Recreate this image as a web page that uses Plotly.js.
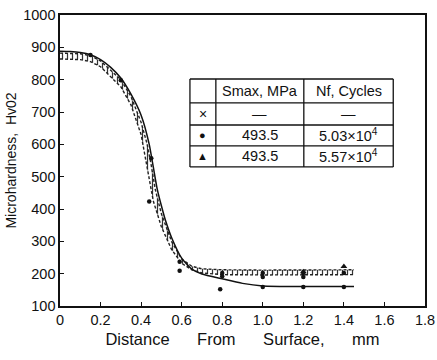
<!DOCTYPE html>
<html>
<head>
<meta charset="utf-8">
<script src="https://cdn.plot.ly/plotly-3.0.1.min.js"></script>
<style>html,body{margin:0;padding:0;background:#fff;}#chart{width:437px;height:360px;}</style>
</head>
<body>
<div id="chart"></div>
<script>
// Solid reference curve
const solidX = [0, 0.05, 0.1, 0.15, 0.2, 0.25, 0.3, 0.35, 0.4, 0.44, 0.46, 0.48, 0.5, 0.52, 0.55, 0.6, 0.65, 0.7, 0.8, 0.9, 1.0, 1.2, 1.45];
const solidY = [888, 887, 884, 877, 862, 838, 805, 755, 690, 600, 530, 460, 410, 365, 312, 248, 214, 199, 184, 170, 162, 160, 160];
// Scatter band (upper and lower edges)
const bandHiX = [0, 0.1, 0.15, 0.2, 0.3, 0.35, 0.4, 0.43, 0.45, 0.47, 0.5, 0.55, 0.6, 0.65, 0.7, 0.8, 1.0, 1.2, 1.45];
const bandHiY = [882, 880, 874, 858, 800, 748, 668, 600, 535, 460, 385, 300, 245, 223, 215, 212, 211, 212, 212];
const bandLoX = [0, 0.1, 0.15, 0.2, 0.3, 0.35, 0.4, 0.42, 0.44, 0.46, 0.5, 0.55, 0.6, 0.65, 0.7, 0.8, 1.0, 1.2, 1.45];
const bandLoY = [864, 862, 856, 840, 778, 722, 630, 560, 485, 425, 345, 275, 232, 212, 202, 197, 196, 197, 197];
// Measured points
const circleX = [0.15, 0.30, 0.45, 0.44, 0.59, 0.59, 0.79, 0.80, 0.80, 1.0, 1.0, 1.0, 1.2, 1.2, 1.2, 1.4, 1.4];
const circleY = [876, 798, 557, 423, 237, 209, 152, 202, 192, 202, 190, 159, 202, 190, 159, 202, 159];
const triX = [1.2, 1.4];
const triY = [206, 222];
// Axis ticks
const xTickVals = [0, 0.2, 0.4, 0.6, 0.8, 1.0, 1.2, 1.4, 1.6, 1.8];
const xTickText = ['0', '0.2', '0.4', '0.6', '0.8', '1.0', '1.2', '1.4', '1.6', '1.8'];
const yTickVals = [100, 200, 300, 400, 500, 600, 700, 800, 900, 1000];
// Legend table
const tableSymbols = ['×', '●', '▲'];
const tableHeader = ['Smax, MPa', 'Nf, Cycles'];
const tableSmax = ['—', '493.5', '493.5'];
const tableNf = ['—', '5.03×10<sup>4</sup>', '5.57×10<sup>4</sup>'];

const FONT = 'Liberation Sans, Arial, sans-serif';
const sp = '\u00A0';
const gap = n => sp.repeat(n);

const traces = [
  {x: bandLoX, y: bandLoY, mode: 'lines', line: {color: '#222', width: 1.4, dash: '3px,2px'}, hoverinfo: 'skip', showlegend: false},
  {x: bandHiX, y: bandHiY, mode: 'lines', line: {color: '#222', width: 1.4, dash: '3px,2px'}, fill: 'tonexty',
   fillcolor: 'rgba(0,0,0,0)', fillpattern: {shape: '|', fgcolor: '#333', size: 5, solidity: 0.25}, hoverinfo: 'skip', showlegend: false},
  {x: solidX, y: solidY, mode: 'lines', line: {color: '#111', width: 1.5, shape: 'spline', smoothing: 0.6}, showlegend: false},
  {x: circleX, y: circleY, mode: 'markers', marker: {symbol: 'circle', size: 4.5, color: '#111'}, showlegend: false},
  {x: triX, y: triY, mode: 'markers', marker: {symbol: 'triangle-up', size: 6, color: '#111'}, showlegend: false}
];

// table geometry in paper coords
const colX = [0.356, 0.427, 0.668, 0.913];
const rowY = [0.780, 0.698, 0.622, 0.550, 0.478];
const shapes = [];
rowY.forEach(y => shapes.push({type: 'line', xref: 'paper', yref: 'paper', x0: colX[0], x1: colX[3], y0: y, y1: y, line: {color: '#111', width: 1.3}}));
colX.forEach(x => shapes.push({type: 'line', xref: 'paper', yref: 'paper', x0: x, x1: x, y0: rowY[0], y1: rowY[4], line: {color: '#111', width: 1.3}}));

const annotations = [];
const cx = i => (colX[i] + colX[i + 1]) / 2;
const cy = i => (rowY[i] + rowY[i + 1]) / 2;
const ann = (x, y, text, size) => annotations.push({xref: 'paper', yref: 'paper', x: x, y: y, text: text, showarrow: false,
  xanchor: 'center', yanchor: 'middle', font: {family: FONT, size: size || 14, color: '#111'}});
ann(cx(1), cy(0), tableHeader[0], 14.5);
ann(cx(2), cy(0), tableHeader[1], 14.5);
for (let r = 0; r < 3; r++) {
  ann(cx(0), cy(r + 1), tableSymbols[r], r === 0 ? 14 : 11);
  ann(cx(1), cy(r + 1), tableSmax[r], 14.5);
  ann(cx(2), cy(r + 1), tableNf[r], 14.5);
}

const layout = {
  width: 437, height: 360,
  margin: {l: 60, r: 12, t: 15, b: 54},
  paper_bgcolor: 'white', plot_bgcolor: 'white',
  font: {family: FONT, color: '#111', size: 14},
  showlegend: false,
  xaxis: {
    range: [0, 1.8], tickvals: xTickVals, ticktext: xTickText,
    showline: true, mirror: true, linecolor: '#111', linewidth: 1.6,
    ticks: 'inside', ticklen: 4, tickcolor: '#111', showgrid: false, zeroline: false,
    tickfont: {family: FONT, size: 14.5, color: '#111'},
    title: {text: 'Distance' + gap(6) + 'From' + gap(6) + 'Surface,' + gap(6) + 'mm', standoff: 6,
            font: {family: FONT, size: 16.5, color: '#111'}}
  },
  yaxis: {
    range: [100, 1000], tickvals: yTickVals,
    showline: true, mirror: true, linecolor: '#111', linewidth: 1.6,
    ticks: 'inside', ticklen: 4, tickcolor: '#111', showgrid: false, zeroline: false,
    tickfont: {family: FONT, size: 14.5, color: '#111'},
    title: {text: 'Microhardness,' + gap(2) + 'Hv02', standoff: 3,
            font: {family: FONT, size: 14, color: '#111'}}
  },
  shapes: shapes,
  annotations: annotations
};

Plotly.newPlot('chart', traces, layout, {displayModeBar: false, staticPlot: true});
</script>
</body>
</html>
